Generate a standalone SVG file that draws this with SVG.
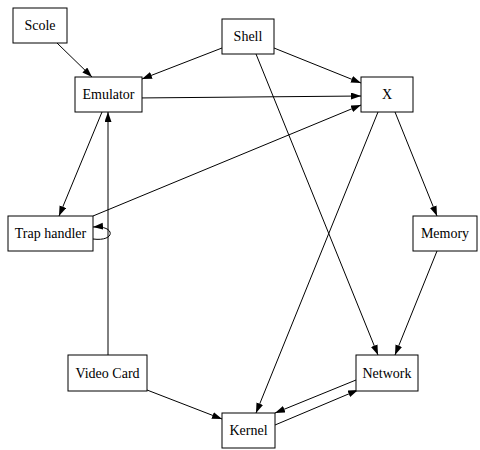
<svg xmlns="http://www.w3.org/2000/svg" width="480" height="450" viewBox="0 0 480 450">
<defs>
<marker id="ah" markerUnits="userSpaceOnUse" markerWidth="11" markerHeight="8" refX="10" refY="3.5" orient="auto">
<path d="M0,0 L10,3.5 L0,7 z" fill="#000"/>
</marker>
<style>
.n rect{fill:#fff;stroke:#000;stroke-width:1}
.n text{font-family:"Liberation Serif","Times New Roman",serif;font-size:14px;fill:#000;text-anchor:middle}
#edges path{fill:none;stroke:#000;stroke-width:1;marker-end:url(#ah)}
</style>
</defs>
<rect width="480" height="450" fill="#fff"/>
<g id="edges">
<path d="M57,43 L92,77"/>
<path d="M222,48 L142,79"/>
<path d="M274,48 L361,83"/>
<path d="M135,98 L361,96"/>
<path d="M93,216 L361,105"/>
<path d="M256,54 L378,355"/>
<path d="M437,251 L395,355"/>
<path d="M395,112 L437,216"/>
<path d="M378,112 L256,413"/>
<path d="M102,112 L59,216"/>
<path d="M108,355 L108,112"/>
<path d="M93,239 C116,242 116,225 93,227"/>
<path d="M147,390 L222,419"/>
<path d="M356,380 L275,413"/>
<path d="M275,425 L358,390"/>
</g>
<g id="scole" class="n"><rect x="13" y="8" width="54" height="35"/><text x="40" y="30">Scole</text></g>
<g id="shell" class="n"><rect x="222" y="19" width="52" height="35"/><text x="248" y="41">Shell</text></g>
<g id="emulator" class="n"><rect x="75" y="77" width="67" height="35"/><text x="108.5" y="99">Emulator</text></g>
<g id="x" class="n"><rect x="361" y="77" width="52" height="35"/><text x="387" y="99">X</text></g>
<g id="trap" class="n"><rect x="8" y="216" width="85" height="35"/><text x="50.5" y="238">Trap handler</text></g>
<g id="memory" class="n"><rect x="413" y="216" width="64" height="35"/><text x="445" y="238">Memory</text></g>
<g id="videocard" class="n"><rect x="68" y="355" width="79" height="36"/><text x="107.5" y="378">Video Card</text></g>
<g id="network" class="n"><rect x="356" y="355" width="62" height="36"/><text x="387" y="378">Network</text></g>
<g id="kernel" class="n"><rect x="222" y="413" width="53" height="35"/><text x="248.5" y="435">Kernel</text></g>
</svg>
